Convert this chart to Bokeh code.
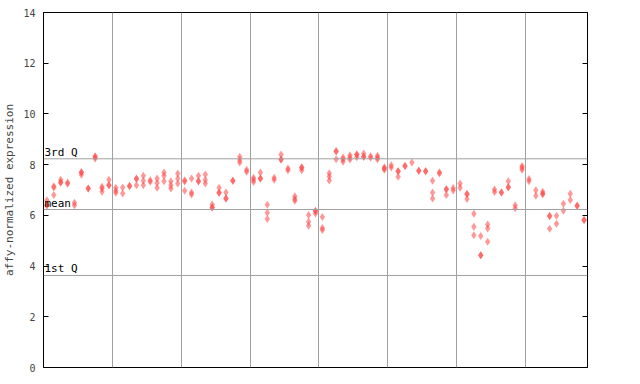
from bokeh.plotting import figure
from bokeh.models import LinearAxis, FixedTicker, Span, ColumnDataSource
from bokeh.core.properties import value
from bokeh.embed import file_html
from bokeh.resources import INLINE

# replicate expression values per sample (79 samples)
samples = [
    [6.6, 6.4, 6.4], [7.15, 7.1, 6.8], [7.4, 7.3, 7.3], [7.3, 7.25], [6.5, 6.4],
    [7.7, 7.7, 7.6], [7.06, 7.06], [8.33, 8.3, 8.24], [7.13, 7.06, 6.93], [7.4, 7.19, 7.19],
    [7.09, 6.97, 6.89], [7.1, 6.86], [7.17, 7.15], [7.45, 7.43, 7.19], [7.56, 7.36, 7.19],
    [7.38, 7.33], [7.45, 7.28, 7.09], [7.69, 7.56, 7.35], [7.35, 7.19, 7.06], [7.65, 7.45, 7.26],
    [7.38, 7.34, 6.97], [7.45, 6.9, 6.82], [7.56, 7.35, 7.35], [7.61, 7.39, 7.26], [6.43, 6.31, 6.31],
    [7.09, 6.89, 6.89], [6.9, 6.66, 6.66], [7.36, 7.36], [8.31, 8.18, 8.08], [7.8, 7.72],
    [7.48, 7.4, 7.32], [7.69, 7.45, 7.45], [6.42, 6.10, 5.86], [7.48, 7.4], [8.40, 8.20, 8.20],
    [7.85, 7.78], [6.75, 6.65, 6.58], [7.89, 7.89, 7.78], [6.01, 5.75, 5.59], [6.17, 6.17, 6.07],
    [5.94, 5.5, 5.42], [7.66, 7.53, 7.37], [8.53, 8.53, 8.21], [8.28, 8.2, 8.11], [8.37, 8.28, 8.20],
    [8.4, 8.4, 8.29], [8.44, 8.31, 8.31], [8.33, 8.27], [8.35, 8.28, 8.21], [7.9, 7.85, 7.8],
    [7.98, 7.89], [7.74, 7.74, 7.52], [7.95, 7.95], [8.08], [7.76, 7.76],
    [7.74, 7.74], [7.36, 6.90, 6.66], [7.7, 7.65], [7.03, 7.03, 6.80], [7.08, 6.98],
    [7.26, 7.09], [6.84, 6.84, 6.65], [6.06, 5.55, 5.22], [5.19, 4.43, 4.43], [5.64, 5.48, 4.96],
    [7.02, 6.92], [6.9, 6.9], [7.35, 7.11, 7.11], [6.4, 6.28], [7.95, 7.88, 7.8],
    [7.43, 7.35], [6.99, 6.77], [6.93, 6.84, 6.84], [5.97, 5.97, 5.47], [5.98, 5.67],
    [6.46, 6.18], [6.85, 6.61], [6.38, 6.38], [5.82, 5.82],
]
q3 = 8.23
mean_val = 6.23
q1 = 3.63
ref_labels = ["3rd Q", "mean", "1st Q"]
y_ticks = [0, 2, 4, 6, 8, 10, 12, 14]
group_lines = [10, 20, 30, 40, 50, 60, 70]

n = len(samples)
xs, ys = [], []
for i, vals in enumerate(samples):
    for v in vals:
        xs.append(i + 0.5)
        ys.append(v)
src = ColumnDataSource(dict(x=xs, y=ys))

p = figure(frame_width=544, frame_height=355, x_range=(0, n), y_range=(0, 14),
           output_backend="svg", toolbar_location=None,
           min_border_left=36, min_border_right=12, min_border_top=12, min_border_bottom=6)
p.background_fill_color = "white"
p.border_fill_color = "white"
p.outline_line_color = "black"
p.outline_line_width = 1

mono = "DejaVu Sans Mono"

p.xaxis.visible = False
p.xgrid.ticker = FixedTicker(ticks=group_lines)
p.xgrid.grid_line_color = "#a0a0a0"
p.ygrid.grid_line_color = None

ya = p.yaxis[0]
ya.ticker = FixedTicker(ticks=y_ticks)
ya.major_tick_in = 5
ya.major_tick_out = 0
ya.minor_tick_in = 0
ya.minor_tick_out = 0
ya.axis_line_color = "black"
ya.major_label_text_font = mono
ya.major_label_text_font_size = "10px"
ya.major_label_standoff = 8
ya.axis_label = "affy-normalized expression"
ya.axis_label_text_font = mono
ya.axis_label_text_font_size = "11px"
ya.axis_label_text_font_style = "normal"
ya.axis_label_standoff = 4

ra = LinearAxis(ticker=FixedTicker(ticks=y_ticks), major_tick_in=5, major_tick_out=0,
                minor_tick_in=0, minor_tick_out=0,
                major_label_overrides={t: "" for t in y_ticks},
                major_label_standoff=0, axis_line_color="black")
p.add_layout(ra, "right")

for loc in [q3, mean_val, q1]:
    p.add_layout(Span(location=loc, dimension="width", line_color="#a0a0a0", line_width=1))

p.scatter("x", "y", source=src, marker="diamond", size=8,
          fill_color="#ff4545", fill_alpha=0.55, line_color=None)

p.text(x=[0, 0, 0], y=[q3, mean_val, q1], text=ref_labels,
       text_font=value(mono), text_font_size="11px", text_color="black",
       text_baseline="bottom", text_align="left", x_offset=1, y_offset=0)

open("out.html", "w").write(file_html(p, INLINE))
